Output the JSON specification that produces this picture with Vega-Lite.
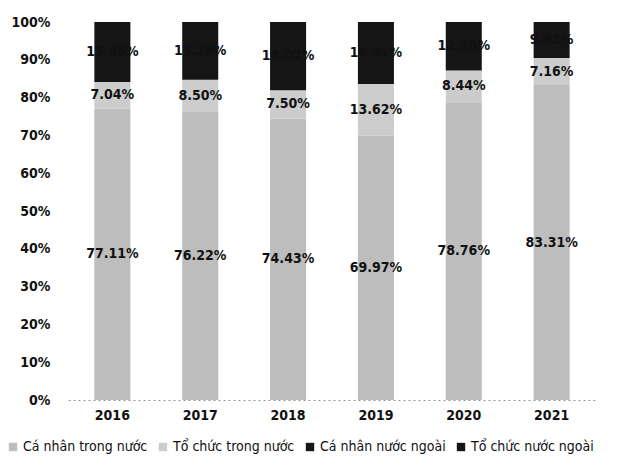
{
  "$schema": "https://vega.github.io/schema/vega-lite/v6.json",
  "autosize": "none",
  "width": 528,
  "height": 378,
  "padding": {"left": 68, "top": 22, "right": 22, "bottom": 70},
  "background": "white",
  "config": {
    "view": {"stroke": null},
    "font": "DejaVu Sans Condensed, Liberation Sans, sans-serif"
  },
  "data": {
    "values": [
      {"year": "2016", "cat": "Cá nhân trong nước", "k": 1, "value": 0.7711},
      {"year": "2016", "cat": "Tổ chức trong nước", "k": 2, "value": 0.0704},
      {"year": "2016", "cat": "Cá nhân nước ngoài", "k": 3, "value": 0.1585},
      {"year": "2017", "cat": "Cá nhân trong nước", "k": 1, "value": 0.7622},
      {"year": "2017", "cat": "Tổ chức trong nước", "k": 2, "value": 0.0850},
      {"year": "2017", "cat": "Cá nhân nước ngoài", "k": 3, "value": 0.1528},
      {"year": "2018", "cat": "Cá nhân trong nước", "k": 1, "value": 0.7443},
      {"year": "2018", "cat": "Tổ chức trong nước", "k": 2, "value": 0.0750},
      {"year": "2018", "cat": "Cá nhân nước ngoài", "k": 3, "value": 0.1807},
      {"year": "2019", "cat": "Cá nhân trong nước", "k": 1, "value": 0.6997},
      {"year": "2019", "cat": "Tổ chức trong nước", "k": 2, "value": 0.1362},
      {"year": "2019", "cat": "Cá nhân nước ngoài", "k": 3, "value": 0.1641},
      {"year": "2020", "cat": "Cá nhân trong nước", "k": 1, "value": 0.7876},
      {"year": "2020", "cat": "Tổ chức trong nước", "k": 2, "value": 0.0844},
      {"year": "2020", "cat": "Cá nhân nước ngoài", "k": 3, "value": 0.1280},
      {"year": "2021", "cat": "Cá nhân trong nước", "k": 1, "value": 0.8331},
      {"year": "2021", "cat": "Tổ chức trong nước", "k": 2, "value": 0.0716},
      {"year": "2021", "cat": "Cá nhân nước ngoài", "k": 3, "value": 0.0953}
    ]
  },
  "encoding": {
    "x": {
      "field": "year", "type": "nominal",
      "scale": {"paddingInner": 0.59, "paddingOuter": 0.3},
      "axis": {
        "title": null, "labelAngle": 0, "ticks": false,
        "domain": true, "domainColor": "#999999", "domainDash": [2, 3], "domainWidth": 1,
        "labelFontSize": 14, "labelFontWeight": "bold", "labelColor": "#111111", "labelPadding": 8
      }
    },
    "y": {
      "field": "value", "type": "quantitative", "stack": "zero",
      "scale": {"domain": [0, 1]},
      "axis": {
        "title": null, "format": ".0%", "values": [0,0.1,0.2,0.3,0.4,0.5,0.6,0.7,0.8,0.9,1],
        "labelOverlap": false,
        "grid": false, "domain": false, "ticks": false,
        "labelFontSize": 14, "labelFontWeight": "bold", "labelColor": "#111111", "labelPadding": 18
      }
    },
    "order": {"field": "k", "type": "quantitative"}
  },
  "layer": [
    {
      "mark": {"type": "bar"},
      "encoding": {
        "color": {
          "field": "cat", "type": "nominal",
          "scale": {
            "domain": ["Cá nhân trong nước", "Tổ chức trong nước", "Cá nhân nước ngoài", "Tổ chức nước ngoài"],
            "range": ["#bdbdbd", "#cccccc", "#151515", "#151515"]
          },
          "legend": {
            "title": null, "orient": "none", "direction": "horizontal", "columns": 4,
            "legendX": -62, "legendY": 418,
            "symbolType": "square", "symbolSize": 70, "symbolStrokeWidth": 0,
            "labelFontSize": 14, "labelColor": "#111111",
            "columnPadding": 8, "labelOffset": 3
          }
        }
      }
    },
    {
      "mark": {"type": "text", "fontSize": 14, "fontWeight": "bold", "color": "#111111", "baseline": "middle"},
      "encoding": {
        "y": {"field": "value", "type": "quantitative", "stack": "zero", "bandPosition": 0.5},
        "text": {"field": "value", "type": "quantitative", "format": ".2%"}
      }
    }
  ]
}
